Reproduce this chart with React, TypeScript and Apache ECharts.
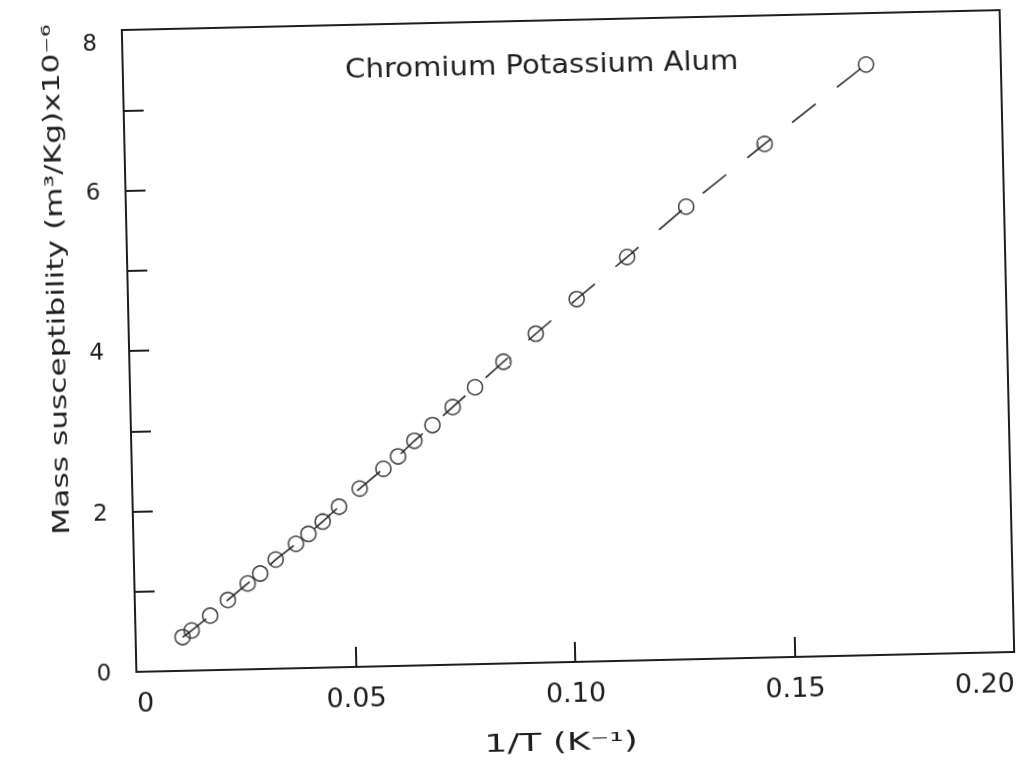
import { useEffect, useRef } from "react";
import * as echarts from "echarts";

// Inverse temperature 1/T (K^-1) and mass susceptibility (x10^-6 m^3/kg)
const invT = [
  0.0107, 0.0128, 0.0171, 0.0212, 0.0258, 0.0287, 0.0323, 0.037, 0.0399,
  0.0432, 0.047, 0.0518, 0.0573, 0.0607, 0.0645, 0.0687, 0.0734, 0.0786,
  0.0852, 0.0927, 0.1022, 0.1139, 0.1276, 0.1458, 0.1693,
];
const chi = [
  0.42, 0.5, 0.68, 0.87, 1.07, 1.19, 1.36, 1.55, 1.67, 1.82, 2.0, 2.22, 2.46,
  2.61, 2.8, 2.99, 3.21, 3.45, 3.76, 4.1, 4.52, 5.03, 5.64, 6.4, 7.36,
];

const titleText = "Chromium Potassium Alum";
const yTitle = "Mass susceptibility (m³/Kg)x10⁻⁶";
const xTitle = "1/T (K⁻¹)";

const ink = "#1e1e1e";
const font = "DejaVu Sans";

export default function App() {
  const ref = useRef<HTMLDivElement>(null);

  useEffect(() => {
    if (!ref.current) return;
    const chart = echarts.init(ref.current, undefined, { renderer: "svg" });
    const points = invT.map((x, i) => [x, chi[i]]);

    chart.setOption({
      animation: false,
      backgroundColor: "#ffffff",
      grid: {
        left: 129,
        top: 20,
        width: 878,
        height: 642,
        show: true,
        borderColor: ink,
        borderWidth: 2,
        backgroundColor: "transparent",
      },
      xAxis: {
        type: "value",
        min: 0,
        max: 0.2,
        interval: 0.05,
        axisLine: { show: true, lineStyle: { color: ink, width: 2 } },
        axisTick: { show: true, inside: true, length: 20, lineStyle: { color: ink, width: 2 } },
        splitLine: { show: false },
        axisLabel: {
          margin: 17,
          color: ink,
          fontSize: 27,
          fontFamily: font,
          alignMinLabel: "left",
          alignMaxLabel: "right",
          formatter: (v: number) => (v === 0 ? "0" : v.toFixed(2)),
        },
      },
      yAxis: {
        type: "value",
        min: 0,
        max: 8,
        interval: 2,
        axisLine: { show: true, lineStyle: { color: ink, width: 2 } },
        axisTick: { show: true, inside: true, length: 20, lineStyle: { color: ink, width: 2 } },
        minorTick: { show: true, splitNumber: 2, length: 20, lineStyle: { color: ink, width: 2 } },
        splitLine: { show: false },
        minorSplitLine: { show: false },
        axisLabel: {
          margin: 25,
          color: ink,
          fontSize: 23,
          fontFamily: font,
          verticalAlignMaxLabel: "top",
        },
      },
      series: [
        {
          type: "line",
          data: points,
          symbol: "none",
          silent: true,
          lineStyle: { color: ink, width: 1.5, type: [30, 27] },
          z: 2,
        },
        {
          type: "scatter",
          data: points,
          symbol: "circle",
          symbolSize: 15,
          itemStyle: { color: "rgba(0,0,0,0)", borderColor: ink, borderWidth: 1.6 },
          z: 3,
        },
      ],
      graphic: [
        {
          type: "text",
          x: 548,
          y: 64,
          scaleX: 1.12,
          style: {
            text: titleText,
            fontSize: 26,
            fontFamily: font,
            fill: ink,
            align: "center",
            verticalAlign: "middle",
          },
        },
        {
          type: "text",
          x: 57,
          y: 268,
          rotation: Math.PI / 2,
          scaleX: 1.36,
          style: {
            text: yTitle,
            fontSize: 23,
            fontFamily: font,
            fill: ink,
            align: "center",
            verticalAlign: "middle",
          },
        },
        {
          type: "text",
          x: 552,
          y: 742,
          scaleX: 1.5,
          style: {
            text: xTitle,
            fontSize: 24,
            fontFamily: font,
            fill: ink,
            align: "center",
            verticalAlign: "middle",
          },
        },
      ],
    });

    return () => chart.dispose();
  }, []);

  return (
    <div
      ref={ref}
      style={{
        position: "fixed",
        left: 0,
        top: 0,
        width: 1024,
        height: 761,
        transform: "rotate(-1.3deg)",
        transformOrigin: "568px 341px",
        background: "#ffffff",
      }}
    />
  );
}
